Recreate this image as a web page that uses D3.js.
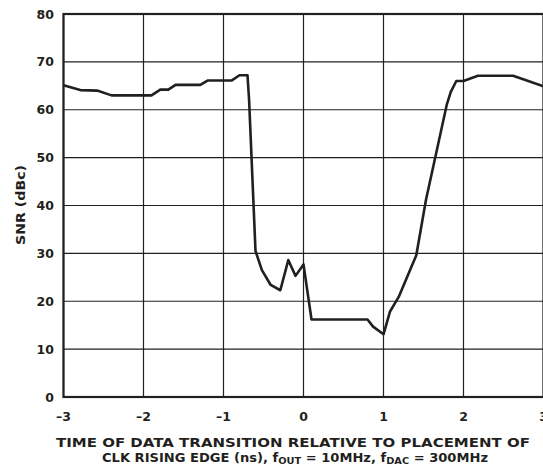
<!doctype html>
<html lang="en">
<head>
<meta charset="UTF-8">
<title>SNR vs data transition time</title>
<script src="https://cdn.jsdelivr.net/npm/d3@7"></script>
<style>
    body { margin: 0; background: #fff; }
    svg { display: block; font-family: "DejaVu Sans", Arial, sans-serif; font-weight: bold; }
</style>
</head>
<body>
<script>
    var w = 543, h = 468;

    // time of data transition (ns) and SNR (dBc)
    var timeNs = [-3, -2.79, -2.58, -2.40, -1.90, -1.79, -1.69, -1.60, -1.29, -1.20, -0.90, -0.80, -0.70,
        -0.68, -0.60, -0.52, -0.41, -0.29, -0.19, -0.10, 0.0, 0.10, 0.80, 0.87, 1.0, 1.08, 1.19,
        1.41, 1.53, 1.79, 1.84, 1.91, 2.0, 2.18, 2.62, 3.0];
    var snrDbc = [65.1, 64.1, 64.0, 63.0, 63.0, 64.2, 64.2, 65.2, 65.2, 66.1, 66.1, 67.2, 67.2,
        62.0, 30.5, 26.5, 23.4, 22.3, 28.6, 25.3, 27.7, 16.2, 16.2, 14.7, 13.1, 17.8, 20.9,
        29.6, 41.1, 61.0, 63.7, 66.0, 66.0, 67.1, 67.1, 64.9];

    var xTicks = [-3, -2, -1, 0, 1, 2, 3];
    var yTicks = [0, 10, 20, 30, 40, 50, 60, 70, 80];

    var pL = 63.5, pR = 543.5, pT = 14, pB = 397;

    var x = d3.scaleLinear().domain([-3, 3]).range([pL, pR]);
    var y = d3.scaleLinear().domain([0, 80]).range([pB, pT]);

    var svg = d3.select("body").append("svg").attr("width", w).attr("height", h);

    // grid
    svg.selectAll("line.vg").data(xTicks).enter().append("line")
        .attr("x1", function (d) { return x(d); })
        .attr("x2", function (d) { return x(d); })
        .attr("y1", pT).attr("y2", pB)
        .attr("stroke", "#231f20").attr("stroke-width", 1.2);
    svg.selectAll("line.hg").data(yTicks).enter().append("line")
        .attr("x1", pL).attr("x2", pR)
        .attr("y1", function (d) { return y(d); })
        .attr("y2", function (d) { return y(d); })
        .attr("stroke", "#231f20").attr("stroke-width", 1.2);

    // frame
    svg.append("rect")
        .attr("x", pL).attr("y", pT)
        .attr("width", pR - pL).attr("height", pB - pT)
        .attr("fill", "none").attr("stroke", "#231f20").attr("stroke-width", 2.2);

    // tick labels
    var fmt = function (d) { return d < 0 ? "\u2013" + (-d) : "" + d; };
    svg.selectAll("text.xt").data(xTicks).enter().append("text")
        .attr("x", function (d) { return x(d); })
        .attr("y", 421)
        .attr("text-anchor", "middle")
        .attr("font-size", "12.5px")
        .attr("fill", "#231f20")
        .text(fmt);
    svg.selectAll("text.yt").data(yTicks).enter().append("text")
        .attr("x", 54)
        .attr("y", function (d) { return y(d) + 4.5; })
        .attr("text-anchor", "end")
        .attr("font-size", "12.5px")
        .attr("fill", "#231f20")
        .text(fmt);

    // axis titles
    svg.append("text")
        .attr("transform", "translate(25,205) rotate(-90)")
        .attr("text-anchor", "middle")
        .attr("font-size", "12px")
        .attr("fill", "#231f20")
        .attr("textLength", 80).attr("lengthAdjust", "spacingAndGlyphs")
        .text("SNR (dBc)");

    svg.append("text")
        .attr("x", 293).attr("y", 447)
        .attr("text-anchor", "middle")
        .attr("font-size", "12px")
        .attr("fill", "#231f20")
        .attr("textLength", 474).attr("lengthAdjust", "spacingAndGlyphs")
        .text("TIME OF DATA TRANSITION RELATIVE TO PLACEMENT OF");

    var t2 = svg.append("text")
        .attr("x", 295).attr("y", 462)
        .attr("text-anchor", "middle")
        .attr("font-size", "12px")
        .attr("fill", "#231f20")
        .attr("textLength", 386).attr("lengthAdjust", "spacingAndGlyphs");
    t2.append("tspan").text("CLK RISING EDGE (ns), f");
    t2.append("tspan").attr("baseline-shift", "-25%").attr("font-size", "9px").text("OUT");
    t2.append("tspan").text(" = 10MHz, f");
    t2.append("tspan").attr("baseline-shift", "-25%").attr("font-size", "9px").text("DAC");
    t2.append("tspan").text(" = 300MHz");

    // data line
    var pts = timeNs.map(function (t, i) { return [t, snrDbc[i]]; });
    var line = d3.line()
        .x(function (d) { return x(d[0]); })
        .y(function (d) { return y(d[1]); });
    svg.append("path")
        .datum(pts)
        .attr("d", line)
        .attr("fill", "none")
        .attr("stroke", "#231f20")
        .attr("stroke-width", 2.6)
        .attr("stroke-linejoin", "round");
</script>
</body>
</html>
